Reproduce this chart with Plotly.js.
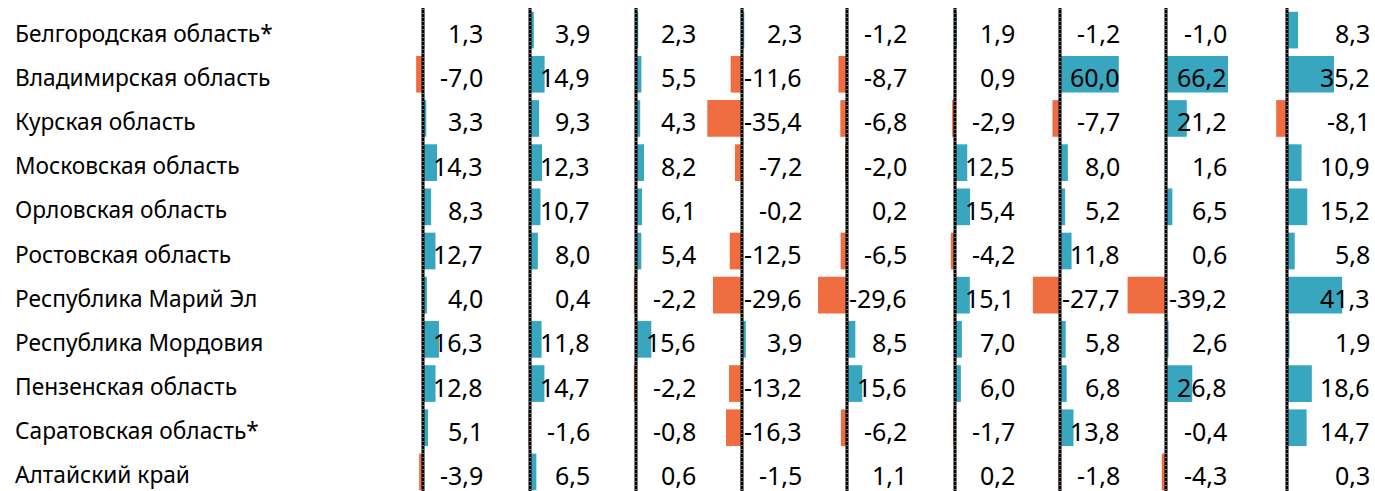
<!DOCTYPE html>
<html>
<head>
<meta charset="utf-8">
<script src="https://cdn.plot.ly/plotly-3.0.1.min.js"></script>
<style>
html,body{margin:0;padding:0;overflow:hidden;background:#fff;}
#chart{width:1375px;height:494px;}
</style>
</head>
<body>
<div id="chart"></div>
<script>
// ---- data ----
const regions = ['Белгородская область*','Владимирская область','Курская область','Московская область','Орловская область','Ростовская область','Республика Марий Эл','Республика Мордовия','Пензенская область','Саратовская область*','Алтайский край'];
const col1 = [1.3, -7.0, 3.3, 14.3, 8.3, 12.7, 4.0, 16.3, 12.8, 5.1, -3.9];
const col2 = [3.9, 14.9, 9.3, 12.3, 10.7, 8.0, 0.4, 11.8, 14.7, -1.6, 6.5];
const col3 = [2.3, 5.5, 4.3, 8.2, 6.1, 5.4, -2.2, 15.6, -2.2, -0.8, 0.6];
const col4 = [2.3, -11.6, -35.4, -7.2, -0.2, -12.5, -29.6, 3.9, -13.2, -16.3, -1.5];
const col5 = [-1.2, -8.7, -6.8, -2.0, 0.2, -6.5, -29.6, 8.5, 15.6, -6.2, 1.1];
const col6 = [1.9, 0.9, -2.9, 12.5, 15.4, -4.2, 15.1, 7.0, 6.0, -1.7, 0.2];
const col7 = [-1.2, 60.0, -7.7, 8.0, 5.2, 11.8, -27.7, 5.8, 6.8, 13.8, -1.8];
const col8 = [-1.0, 66.2, 21.2, 1.6, 6.5, 0.6, -39.2, 2.6, 26.8, -0.4, -4.3];
const col9 = [8.3, 35.2, -8.1, 10.9, 15.2, 5.8, 41.3, 1.9, 18.6, 14.7, 0.3];
const columns = [col1, col2, col3, col4, col5, col6, col7, col8, col9];

// ---- styling / layout constants ----
const W = 1375, H = 494;
const POS = '#38A6BE', NEG = '#F06C41';
const FONT = 'Noto Sans';
const FS_LABEL = 22.7, FS_VAL = 25;
const TEXT_SHIFT = -3;
const zeroPx  = [423, 530, 636, 742, 847, 955, 1060, 1166, 1287];
const rightPx = [484, 591, 697, 803, 908, 1016, 1121, 1228, 1371];
const scale   = [0.98, 0.98, 0.98, 0.98, 0.98, 0.98, 0.98, 0.98, 1.335];
const leftPad = 50;

const fmt = v => v.toFixed(1).replace('.', ',');

const traces = [];
const layout = {
  width: W, height: H,
  margin: {l: 0, r: 0, t: 8, b: 0},
  paper_bgcolor: '#fff', plot_bgcolor: 'rgba(0,0,0,0)',
  showlegend: false,
  bargap: 0.17,
  font: {family: FONT, color: '#000'},
  yaxis: {type: 'category', autorange: 'reversed', showticklabels: false, showgrid: false, zeroline: false, fixedrange: true},
  annotations: [], shapes: []
};

columns.forEach((vals, k) => {
  const ax = k === 0 ? 'x' : 'x' + (k + 1);
  const axKey = k === 0 ? 'xaxis' : 'xaxis' + (k + 1);
  const L = Math.max(zeroPx[k] - leftPad, 300), R = rightPx[k];
  layout[axKey] = {
    domain: [L / W, R / W],
    range: [(L - zeroPx[k]) / scale[k], (R - zeroPx[k]) / scale[k]],
    showticklabels: false, showgrid: false, zeroline: false, showline: false, fixedrange: true,
    anchor: 'y'
  };
  traces.push({
    type: 'bar', orientation: 'h', xaxis: ax, yaxis: 'y',
    x: vals, y: regions,
    marker: {color: vals.map(v => v >= 0 ? POS : NEG), line: {width: 0}},
    hoverinfo: 'skip'
  });
  layout.shapes.push({
    type: 'line', xref: ax, yref: 'paper', x0: 0, x1: 0, y0: 0, y1: 1,
    line: {color: '#000', width: 3}, layer: 'above'
  });
  layout.shapes.push({
    type: 'line', xref: ax, yref: 'paper', x0: 0, x1: 0, y0: 0, y1: 1,
    line: {color: '#ddd', width: 1, dash: '1px,3px'}, layer: 'above'
  });
  vals.forEach((v, i) => {
    layout.annotations.push({
      xref: ax + ' domain', yref: 'y', x: 1, y: regions[i],
      xanchor: 'right', yanchor: 'middle', showarrow: false, yshift: TEXT_SHIFT,
      text: fmt(v), font: {family: FONT, size: FS_VAL, color: '#000'}, borderpad: 0
    });
  });
});

regions.forEach(r => {
  layout.annotations.push({
    xref: 'paper', yref: 'y', x: 14 / W, y: r,
    xanchor: 'left', yanchor: 'middle', showarrow: false, yshift: TEXT_SHIFT,
    text: r, font: {family: FONT, size: FS_LABEL, color: '#000'}, borderpad: 0
  });
});

Plotly.newPlot('chart', traces, layout, {staticPlot: true, displayModeBar: false});
</script>
</body>
</html>
